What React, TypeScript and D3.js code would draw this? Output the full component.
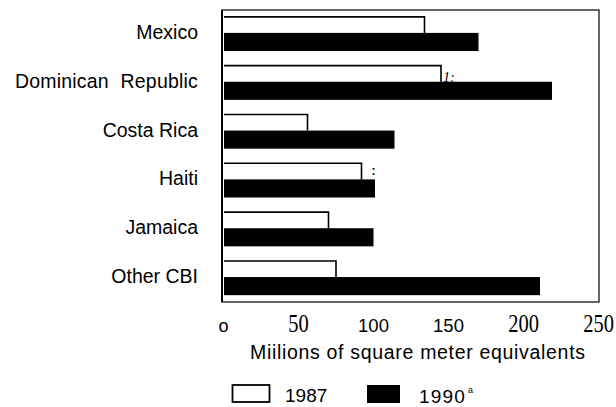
import React from "react";
import * as d3 from "d3";

const categories = ["Mexico", "Dominican Republic", "Costa Rica", "Haiti", "Jamaica", "Other CBI"];
const values1987 = [134, 145, 56, 92, 70, 75];
const values1990 = [170, 219, 114, 101, 100, 211];
const tickValues = [0, 50, 100, 150, 200, 250];
const tickLabels = ["o", "50", "100", "150", "200", "250"];
const axisTitle = "Miilions of square meter equivalents";
const legendLabels = ["1987", "1990"];

const serifTicks = new Set([1, 4, 5]);

export default function App() {
  const W = 616, H = 407;
  const x = d3.scaleLinear().domain([0, 250]).range([223.5, 598.5]);
  const y = d3.scaleBand<string>().domain(categories).range([10, 302]).paddingInner(0.3).paddingOuter(0.14);
  const bw = y.bandwidth();
  const openH = bw * 0.47;
  const sans = "'Liberation Sans', Arial, sans-serif";
  const serif = "'Liberation Serif', 'Times New Roman', serif";
  return (
    <svg width={W} height={H} style={{ position: "absolute", left: 0, top: 0, background: "#fff" }}>
      <rect x={0} y={0} width={W} height={H} fill="#fff" />
      {categories.map((c, i) => {
        const top = y(c)!;
        const x0 = x(0) + 0.5;
        const x1 = x(values1987[i]);
        const x2 = x(values1990[i]);
        return (
          <g key={c}>
            <path d={`M${x0},${top} H${x1} V${top + openH}`} fill="none" stroke="#000" strokeWidth={1.6} />
            <rect x={x0} y={top + openH} width={x2 - x0} height={bw - openH} fill="#000" />
            <text
              x={198}
              y={top + bw / 2 + 5}
              textAnchor="end"
              fontFamily={sans}
              fontSize={19.5}
              wordSpacing={i === 1 ? 6 : 0}
              letterSpacing={i === 1 ? 0.2 : 0}
            >
              {c}
            </text>
          </g>
        );
      })}
      <text x={x(values1987[1]) + 2} y={y(categories[1])! + 16} fontFamily={serif} fontStyle="italic" fontSize={14}>1:</text>
      <text x={x(values1987[3]) + 10} y={y(categories[3])! + 12} fontFamily={sans} fontSize={12} fontWeight="bold">:</text>
      <rect x={222} y={10} width={377} height={292} fill="none" stroke="#000" strokeWidth={1.2} />
      <line x1={222} y1={10} x2={222} y2={302} stroke="#000" strokeWidth={2} />
      {tickValues.map((v, i) => {
        const cx = x(v);
        return serifTicks.has(i) ? (
          <text
            key={v}
            transform={`translate(${cx},332) scale(0.82,1)`}
            textAnchor="middle"
            fontFamily={serif}
            fontSize={25}
          >
            {tickLabels[i]}
          </text>
        ) : (
          <text key={v} x={cx} y={332} textAnchor="middle" fontFamily={sans} fontSize={i === 0 ? 18 : 18.5}>
            {tickLabels[i]}
          </text>
        );
      })}
      <text x={250} y={359} fontFamily={sans} fontSize={19.5} textLength={335} lengthAdjust="spacing">
        {axisTitle}
      </text>
      <rect x={232.5} y={385} width={37} height={17} fill="#fff" stroke="#000" strokeWidth={1.8} />
      <text x={285} y={402} fontFamily={sans} fontSize={19}>{legendLabels[0]}</text>
      <rect x={367} y={385} width={33} height={18} fill="#000" />
      <text x={419} y={403} fontFamily={sans} fontSize={19} letterSpacing={1.2}>{legendLabels[1]}</text>
      <text x={468} y={393} fontFamily={sans} fontSize={9}>a</text>
    </svg>
  );
}
